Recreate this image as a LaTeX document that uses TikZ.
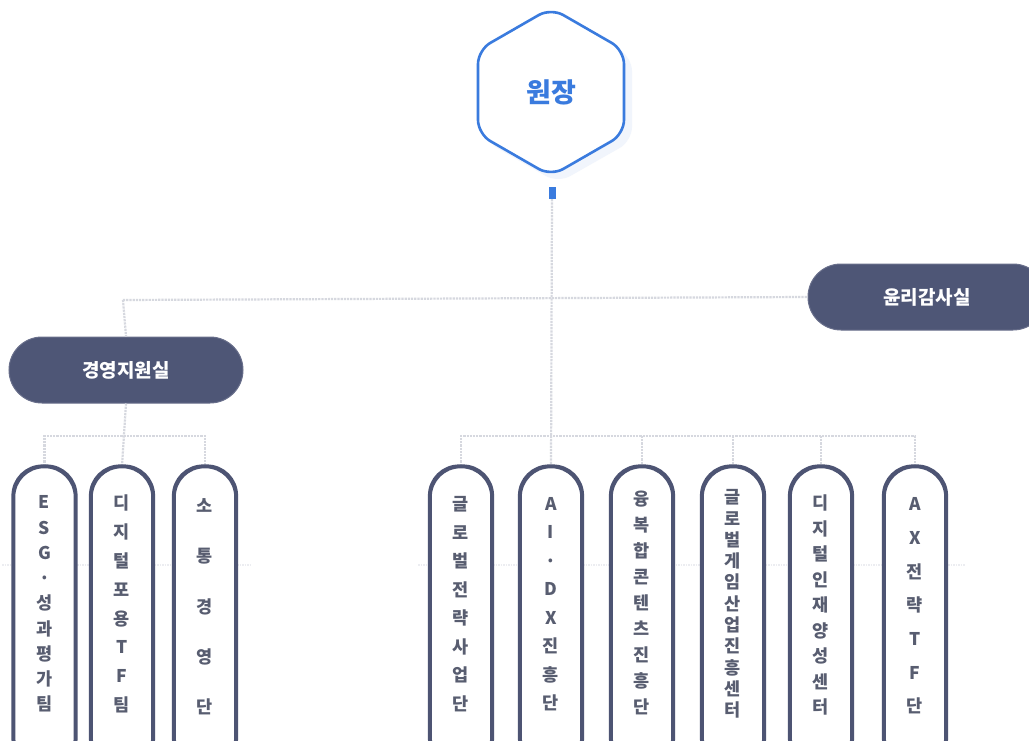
\documentclass[tikz,border=0pt]{standalone}
\usepackage{fontspec}
\newfontfamily\kr{Noto Sans CJK KR}
\definecolor{hexblue}{HTML}{3A7BDE}
\definecolor{hexshadow}{HTML}{F1F5FC}
\definecolor{pillfill}{HTML}{4E5676}
\definecolor{boxline}{HTML}{4D5473}
\definecolor{boxtext}{HTML}{585D70}
\definecolor{conn}{HTML}{D6D8DF}
\definecolor{faint}{HTML}{ECEDF1}
\tikzset{
  pill/.style={draw=pillfill!85!white, line width=1pt, fill=pillfill, rounded corners=33pt,
    minimum width=234pt, minimum height=66pt, inner sep=0pt,
    text=white, font=\kr\bfseries\fontsize{19}{22}\selectfont},
  unitbox/.style={draw=boxline, line width=2.6pt, fill=white, rounded corners=30pt,
    minimum width=61pt, minimum height=300pt, inner sep=0pt},
  unittext/.style={text=boxtext, align=center, inner sep=0pt},
  link/.style={draw=conn, line width=2.2pt, densely dotted},
}
\newcommand{\vsk}[1]{\kr\bfseries\fontsize{17.5}{#1}\selectfont}
\begin{document}
\begin{tikzpicture}[x=1pt,y=-1pt]
\useasboundingbox (0,0) rectangle (1029,741);
\clip (0,0) rectangle (1029,741);
\fill[white] (0,0) rectangle (1029,741);
% faint line behind boxes
\draw[faint, line width=1.5pt, densely dotted] (2,565) -- (252,565);
\draw[faint, line width=1.5pt, densely dotted] (418,565) -- (965,565);
% hexagon
\fill[hexshadow, rounded corners=14pt] (558,15) -- (632,57) -- (632,141) -- (558,183) -- (485,141) -- (485,57) -- cycle;
\filldraw[draw=hexblue, fill=white, line width=2.6pt, rounded corners=14pt]
  (551,8) -- (624,50) -- (624,134) -- (551,176) -- (478,134) -- (478,50) -- cycle;
\node[text=hexblue, font=\kr\bfseries\fontsize{27}{30}\selectfont] (head) at (551,92) {원장};
\node[fill=hexblue, minimum width=7pt, minimum height=12pt, inner sep=0pt] (tab) at (552,193) {};
% coordinates
\coordinate (jL) at (123,300);
\coordinate (barL) at (0,436);
% boxes left
\node[unitbox] (l1) at (44.5,617) {};
\node[unitbox] (l2) at (122,617) {};
\node[unitbox] (l3) at (205,617) {};
% boxes right
\node[unitbox] (r1) at (461,617) {};
\node[unitbox] (r2) at (551,617) {};
\node[unitbox] (r3) at (642,617) {};
\node[unitbox] (r4) at (733,617) {};
\node[unitbox] (r5) at (821,617) {};
\node[unitbox] (r6) at (915,617) {};
% pills
\node[pill] (mgmt) at (126,370) {경영지원실};
\node[pill, minimum width=238pt] (ethics) at (927,297) {윤리감사실};
% connectors
\draw[link] (tab.south) -- (r2.north);
\draw[link] (jL) -- (ethics.west);
\draw[link] (jL) -- (mgmt.north);
\draw[link] (mgmt.south) -- (l2.north);
\draw[link] (l1.north) -- (l1.north |- barL) -- (l3.north |- barL) -- (l3.north);
\draw[link] (r1.north) -- (r1.north |- barL) -- (r6.north |- barL) -- (r6.north);
\draw[link] (r3.north |- barL) -- (r3.north);
\draw[link] (r4.north |- barL) -- (r4.north);
\draw[link] (r5.north |- barL) -- (r5.north);
% redraw box outlines over connector ends
\foreach \b in {l1,l2,l3,r1,r2,r3,r4,r5,r6}{
  \draw[boxline, line width=2.6pt, rounded corners=30pt]
    (\b.south west) rectangle (\b.north east);
}
% texts
\node[unittext, font=\vsk{25.25}] (t1) at (44.5,604) {E\\S\\G\\·\\성\\과\\평\\가\\팀};
\node[unittext, font=\vsk{28.9}] (t2) at (122,604) {디\\지\\털\\포\\용\\T\\F\\팀};
\node[unittext, font=\vsk{50.3}] (t3) at (205,607) {소\\통\\경\\영\\단};
\node[unittext, font=\vsk{28.5}] (t4) at (461,604) {글\\로\\벌\\전\\략\\사\\업\\단};
\node[unittext, font=\vsk{28.5}] (t5) at (551,604) {A\\I\\·\\D\\X\\진\\흥\\단};
\node[unittext, font=\vsk{26}] (t6) at (642,603) {융\\복\\합\\콘\\텐\\츠\\진\\흥\\단};
\node[unittext, font=\vsk{21.3}] (t7) at (733,604) {글\\로\\벌\\게\\임\\산\\업\\진\\흥\\센\\터};
\node[unittext, font=\vsk{25.5}] (t8) at (821,605) {디\\지\\털\\인\\재\\양\\성\\센\\터};
\node[unittext, font=\vsk{33.7}] (t9) at (915,606) {A\\X\\전\\략\\T\\F\\단};
\end{tikzpicture}
\end{document}
